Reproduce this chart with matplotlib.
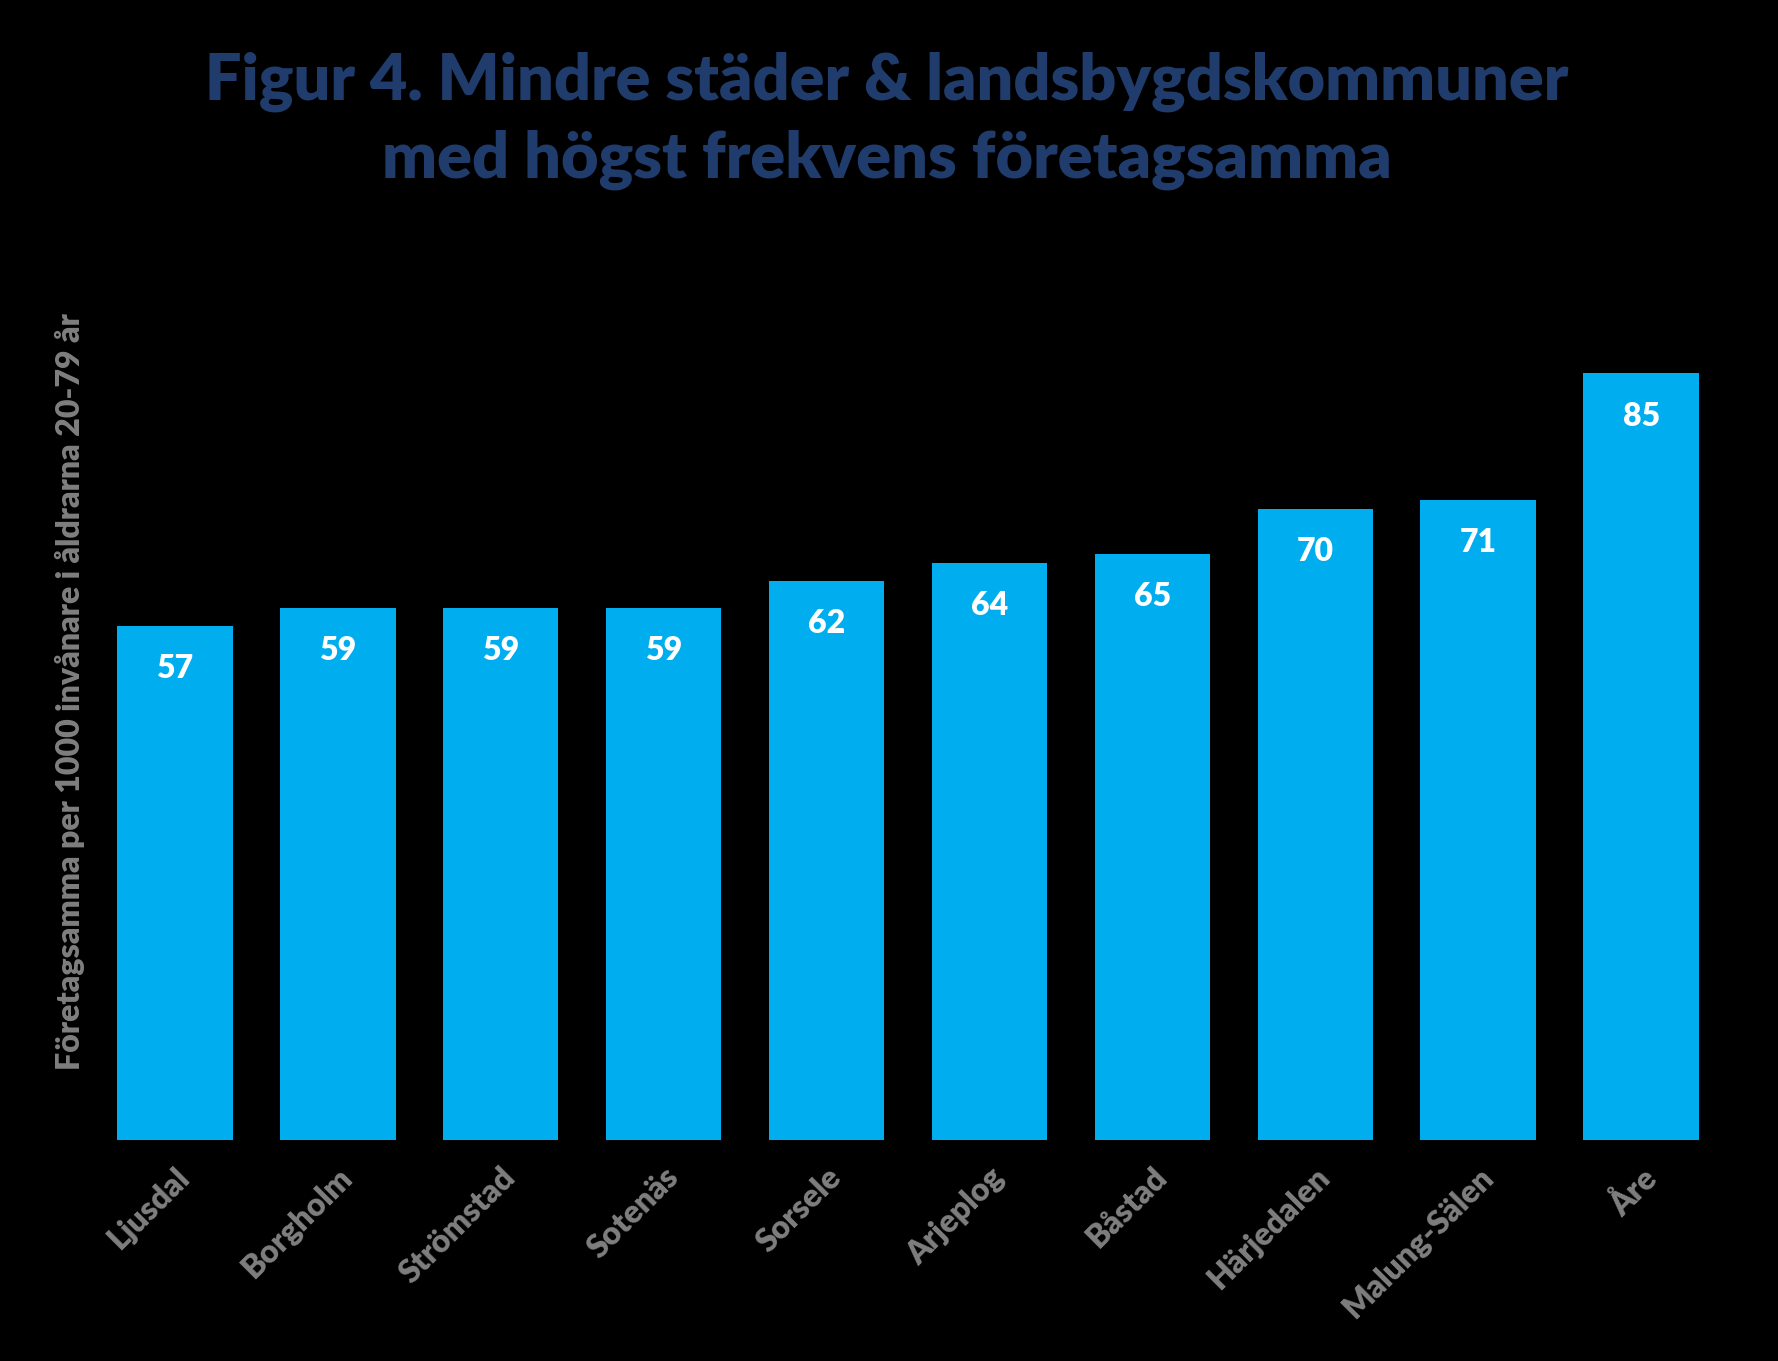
import matplotlib
matplotlib.use("Agg")
import matplotlib.pyplot as plt

kommuner = ["Ljusdal", "Borgholm", "Strömstad", "Sotenäs", "Sorsele",
            "Arjeplog", "Båstad", "Härjedalen", "Malung-Sälen", "Åre"]
varden = [57, 59, 59, 59, 62, 64, 65, 70, 71, 85]

BAR = "#00AEEF"
NAVY = "#1F3C6C"
GREY = "#7F7F7F"
FONT = ["Lato", "DejaVu Sans"]

plt.rcParams["font.family"] = FONT

fig = plt.figure(figsize=(17.78, 13.61), dpi=100, facecolor="black")
ax = fig.add_axes([77 / 1778, 1 - 1140 / 1361, (1739 - 77) / 1778, (1140 - 283) / 1361])
ax.set_facecolor("black")

x = range(len(kommuner))
bars = ax.bar(x, varden, width=0.71, color=BAR)
ax.set_xlim(-0.6, 9.6)
ax.set_ylim(0, 95)

for b, v in zip(bars, varden):
    ax.annotate(str(v), (b.get_x() + b.get_width() / 2, v), xytext=(0, -31),
                textcoords="offset points", ha="center", va="center",
                color="white", fontsize=23, fontweight="heavy")

ax.set_xticks(list(x))
ax.set_xticklabels(kommuner, rotation=45, ha="right", rotation_mode="anchor",
                   color=GREY, fontsize=23, fontweight="heavy")
ax.tick_params(axis="x", length=0, pad=16)
ax.set_yticks([])
for s in ax.spines.values():
    s.set_visible(False)

ylab = fig.text(70 / 1778, 1 - 692 / 1361, "Företagsamma per 1000 invånare i åldrarna 20-79 år",
                rotation=90, ha="center", va="center", color=GREY, fontsize=19, fontweight="heavy")

t1 = fig.text(887 / 1778, 1 - 82 / 1361, "Figur 4. Mindre städer & landsbygdskommuner",
              ha="center", va="center", color=NAVY, fontsize=50, fontweight="heavy")
t2 = fig.text(887 / 1778, 1 - 160 / 1361, "med högst frekvens företagsamma",
              ha="center", va="center", color=NAVY, fontsize=50, fontweight="heavy")

# fit title widths to the reference
r = fig.canvas.get_renderer()
for t, w in [(t1, 1363), (t2, 1009)]:
    cur = t.get_window_extent(r).width
    t.set_fontsize(t.get_fontsize() * w / cur)
h = ylab.get_window_extent(r).height
ylab.set_fontsize(ylab.get_fontsize() * 760 / h)

fig.savefig("out.png", dpi=100, facecolor="black")
